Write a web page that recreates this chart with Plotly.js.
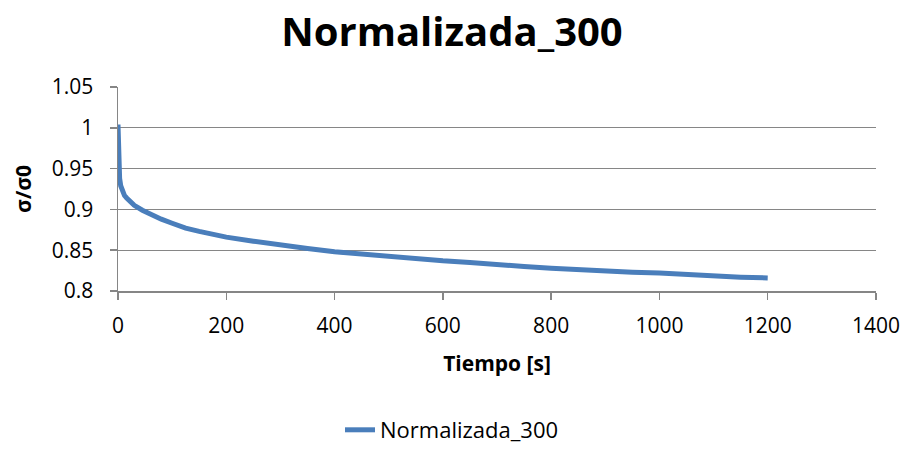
<!DOCTYPE html>
<html><head><meta charset="utf-8">
<script src="https://cdn.plot.ly/plotly-3.0.1.min.js"></script>
<style>html,body{margin:0;padding:0;background:#fff}#c{width:904px;height:451px}</style>
</head><body><div id="c"></div>
<script>
const tiempo = [0, 0.5, 1, 2, 3, 5, 7, 9, 12, 16, 20, 30, 45, 60, 80, 100, 125, 150, 175, 200, 250, 300, 350, 400, 450, 500, 550, 600, 650, 700, 750, 800, 850, 900, 950, 1000, 1050, 1100, 1150, 1200];
const normalizada = [1.004, 0.98, 0.962, 0.946, 0.938, 0.929, 0.924, 0.920, 0.917, 0.914, 0.911, 0.905, 0.899, 0.894, 0.888, 0.883, 0.877, 0.873, 0.869, 0.866, 0.861, 0.856, 0.852, 0.848, 0.845, 0.842, 0.840, 0.837, 0.835, 0.832, 0.830, 0.828, 0.826, 0.825, 0.823, 0.822, 0.820, 0.819, 0.817, 0.816];
const xTicks = [0, 200, 400, 600, 800, 1000, 1200, 1400];
const yTicks = [0.8, 0.85, 0.9, 0.95, 1, 1.05];
const yTickText = ['0.8', '0.85', '0.9', '0.95', '1', '1.05'];

const F = '"Open Sans", "Noto Sans", sans-serif';
Plotly.newPlot('c', [{
  x: tiempo, y: normalizada, type: 'scatter', mode: 'lines', name: 'Normalizada_300',
  line: {color: '#4a7ebb', width: 5}
}], {
  width: 904, height: 451,
  margin: {l: 118, r: 28, t: 87, b: 160, autoexpand: false},
  paper_bgcolor: '#fff', plot_bgcolor: '#fff',
  font: {family: F, color: '#000'},
  title: {text: '<b>Normalizada_300</b>', font: {size: 40, family: F, color: '#000'}, x: 0.5, xanchor: 'center', y: 0.93, yanchor: 'middle'},
  xaxis: {range: [0, 1400], tickvals: xTicks, ticktext: xTicks.map(String), showgrid: false, zeroline: false, automargin: false,
    showline: true, linecolor: '#868686', linewidth: 1.5, ticks: 'outside', ticklen: 7, tickcolor: '#868686', tickwidth: 1.5,
    ticklabelstandoff: 8,
    tickfont: {size: 21, family: F}, title: {text: '<b>Tiempo [s]</b>', font: {size: 21, family: F}, standoff: 18}},
  yaxis: {range: [0.8, 1.05], tickvals: yTicks, ticktext: yTickText, showgrid: true, gridcolor: '#868686', gridwidth: 1.3, zeroline: false, automargin: false,
    showline: true, linecolor: '#868686', linewidth: 1.5, ticks: 'outside', ticklen: 7, tickcolor: '#868686', tickwidth: 1.5,
    ticklabelstandoff: 12,
    tickfont: {size: 21, family: F}, title: {text: '<b>σ/σ0</b>', font: {size: 21, family: F}, standoff: 14}},
  showlegend: true,
  legend: {orientation: 'h', x: 0.5, xref: 'container', xanchor: 'center', y: 0.0, yref: 'container', yanchor: 'bottom', font: {size: 22, family: F}},
}, {displayModeBar: false, staticPlot: true});
</script></body></html>
